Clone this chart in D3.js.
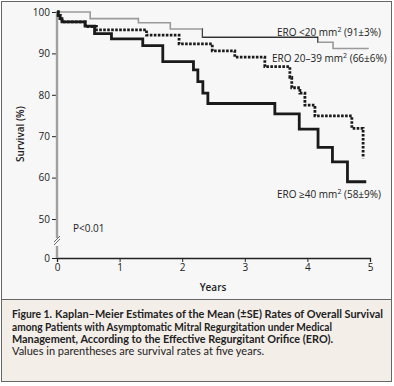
<!DOCTYPE html>
<head>
<meta charset="utf-8">
<script src="https://d3js.org/d3.v7.min.js"></script>
<style>
  body { margin:0; background:#ffffff; }
  .tick text { font-family: "Open Sans", sans-serif; font-size:10px; fill:#222; }
  .lbl { font-family: "Open Sans", sans-serif; font-size:10px; fill:#222; }
  .cap { font-family: Lato, "Open Sans", sans-serif; font-size:11px; fill:#222; }
</style>
</head>
<body>
<div id="chart"></div>
<script>
// ERO < 20 mm2
var lowT = [0, 0.53, 1.30, 1.81, 2.32, 4.17, 4.41, 4.98];
var lowS = [100, 98.4, 97.4, 95.9, 93.9, 92.7, 91.2, 91.2];
// ERO 20-39 mm2
var midT = [0, 0.02, 0.05, 0.08, 0.45, 0.63, 1.43, 1.95, 2.48, 2.84, 3.32, 3.72, 3.75, 3.88, 3.96, 4.12, 4.71, 4.89];
var midS = [100, 99.2, 98.4, 97.6, 96.5, 95.7, 94.4, 92.3, 90.6, 89.1, 86.8, 84.2, 81.7, 80.4, 77.5, 74.9, 71.9, 64.7];
// ERO >= 40 mm2
var highT = [0, 0.02, 0.05, 0.08, 0.45, 0.60, 0.87, 1.37, 1.69, 2.18, 2.25, 2.33, 2.41, 3.48, 3.87, 4.17, 4.40, 4.64, 4.94];
var highS = [100, 99.2, 98.4, 97.6, 96.6, 94.8, 93.5, 91.9, 88.0, 86.0, 83.2, 80.4, 77.9, 75.4, 71.7, 67.3, 63.8, 59.0, 59.0];

var xTicks = [0, 1, 2, 3, 4, 5];
var yTicks = [0, 50, 60, 70, 80, 90, 100];

var captionLines = [
  "Kaplan\u2013Meier Estimates of the Mean (\u00b1SE) Rates of Overall Survival",
  "among Patients with Asymptomatic Mitral Regurgitation under Medical",
  "Management, According to the Effective Regurgitant Orifice (ERO)."
];
var captionNote = "Values in parentheses are survival rates at five years.";

var W = 394, H = 386;
var svg = d3.select("#chart").append("svg").attr("width", W).attr("height", H);

// panel frame
svg.append("rect").attr("x", 1.5).attr("y", 1.5).attr("width", 390).attr("height", 380)
  .attr("fill", "#f7f7f7").attr("stroke", "#666").attr("stroke-width", 1);
svg.append("rect").attr("x", 1.5).attr("y", 299.5).attr("width", 390).attr("height", 82)
  .attr("fill", "#f4eee9").attr("stroke", "#666").attr("stroke-width", 1);

var x = d3.scaleLinear().domain([0, 5]).range([57, 370]);
var y = d3.scaleLinear().domain([0, 50, 100]).range([258, 219, 12]);

// axes
var xAxis = d3.axisBottom(x).tickValues(xTicks).tickFormat(d3.format("d")).tickSize(4).tickPadding(2);
var gx = svg.append("g").attr("transform", "translate(0," + y(0) + ")").call(xAxis);
gx.select(".domain").attr("stroke", "#222").attr("stroke-width", 1.3);
gx.selectAll(".tick line").attr("stroke", "#222");

var yAxis = d3.axisLeft(y).tickValues(yTicks).tickSize(5).tickPadding(2);
var gy = svg.append("g").attr("transform", "translate(" + x(0) + ",0)").call(yAxis);
gy.select(".domain").remove();
gy.selectAll(".tick line").attr("stroke", "#222");

// grey y axis line with break
var ax = svg.append("g").attr("stroke", "#a0a0a0").attr("stroke-width", 2.4);
ax.append("line").attr("x1", x(0)).attr("x2", x(0)).attr("y1", y(100) - 1).attr("y2", 238);
ax.append("line").attr("x1", x(0)).attr("x2", x(0)).attr("y1", 246).attr("y2", y(0));
svg.append("g").attr("stroke", "#666").attr("stroke-width", 1)
  .selectAll("line").data([0, 3]).enter().append("line")
  .attr("x1", function(d) { return x(0) - 3; }).attr("y1", function(d) { return 242 + d; })
  .attr("x2", function(d) { return x(0) + 3; }).attr("y2", function(d) { return 236 + d; });

var line = d3.line().curve(d3.curveStepAfter)
  .x(function(d) { return x(d[0]); }).y(function(d) { return y(d[1]); });
function pts(t, s) { return t.map(function(v, i) { return [v, s[i]]; }); }

// curves
svg.append("path").attr("d", line(pts(lowT, lowS))).attr("fill", "none")
  .attr("stroke", "#9a9a9a").attr("stroke-width", 1.6);
svg.append("clipPath").attr("id", "mid").append("rect")
  .attr("x", x(lowT[4])).attr("y", 0).attr("width", x(lowT[5]) - x(lowT[4])).attr("height", H);
svg.append("path").attr("d", line(pts(lowT, lowS))).attr("fill", "none")
  .attr("clip-path", "url(#mid)").attr("stroke", "#111").attr("stroke-width", 1.2);

svg.append("path").attr("d", line(pts(highT, highS))).attr("fill", "none")
  .attr("stroke", "#1a1a1a").attr("stroke-width", 2.8);
svg.append("path").attr("d", line(pts(midT, midS))).attr("fill", "none")
  .attr("stroke", "#1a1a1a").attr("stroke-width", 2.8).attr("stroke-dasharray", "2.6,1.4");

// labels
function eroLabel(px, py, pre, post) {
  var t = svg.append("text").attr("class", "lbl").attr("x", px).attr("y", py);
  t.append("tspan").text(pre);
  t.append("tspan").attr("dy", -4).attr("font-size", "7px").text("2");
  t.append("tspan").attr("dy", 4).text(post);
}
eroLabel(277, 36, "ERO <20 mm", " (91\u00b13%)");
eroLabel(272, 62, "ERO 20\u201339 mm", " (66\u00b16%)");
eroLabel(277, 198, "ERO \u226540 mm", " (58\u00b19%)");

svg.append("text").attr("class", "lbl").attr("x", 73).attr("y", 232).text("P<0.01");
svg.append("text").attr("class", "lbl").attr("transform", "translate(24,134) rotate(-90)")
  .attr("text-anchor", "middle").style("font-weight", 600).text("Survival (%)");
svg.append("text").attr("class", "lbl").attr("x", 213).attr("y", 291)
  .attr("text-anchor", "middle").style("font-weight", 600).text("Years");

// caption
function capLine(px, py, len, txt, bold, color) {
  svg.append("text").attr("class", "cap").attr("x", px).attr("y", py)
    .attr("textLength", len).attr("lengthAdjust", "spacingAndGlyphs")
    .style("font-weight", bold ? 700 : 400).attr("fill", color || "#222").text(txt);
}
capLine(12, 318, 40, "Figure 1.", true, "#c8102e");
capLine(55, 318, 328, captionLines[0], true);
capLine(12, 330.5, 320, captionLines[1], true);
capLine(12, 342.5, 321, captionLines[2], true);
capLine(12, 355, 252, captionNote, false);
</script>
</body>
</html>
